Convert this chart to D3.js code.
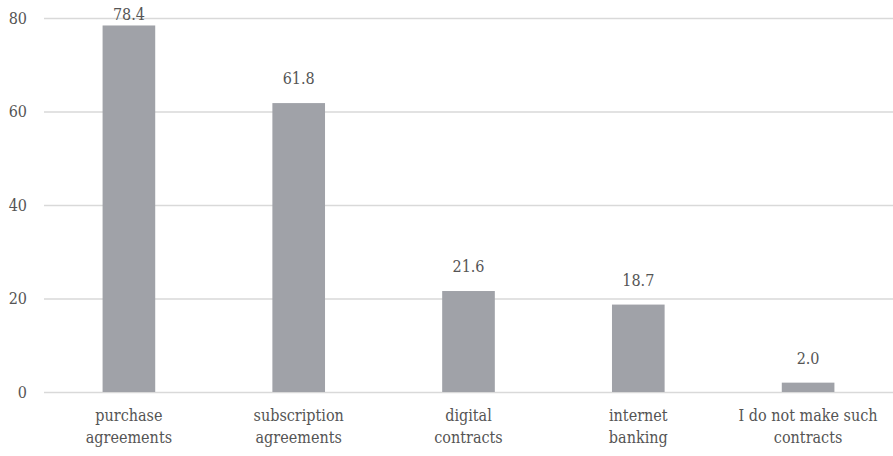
<!DOCTYPE html>
<html>
<head>
<meta charset="utf-8">
<script src="https://cdn.jsdelivr.net/npm/d3@7"></script>
<style>
  body { margin: 0; background: #fff; }
  text { font-family: "DejaVu Serif Condensed", "DejaVu Serif", serif; font-stretch: condensed; fill: #555555; }
</style>
</head>
<body>
<div id="chart"></div>
<script>
var categories = [
    ["purchase", "agreements"],
    ["subscription", "agreements"],
    ["digital", "contracts"],
    ["internet", "banking"],
    ["I do not make such", "contracts"]
];
var values = [78.4, 61.8, 21.6, 18.7, 2.0];
var yTicks = [0, 20, 40, 60, 80];

var width = 893, height = 456,
    margin = {top: 18, right: 0, bottom: 64, left: 44};

var svg = d3.select("#chart").append("svg")
    .attr("width", width)
    .attr("height", height);

var x = d3.scaleBand()
    .domain(d3.range(values.length))
    .range([margin.left, width - margin.right])
    .paddingInner(0.69)
    .paddingOuter(0.345);

var y = d3.scaleLinear()
    .domain([0, 80])
    .range([height - margin.bottom, margin.top]);

// gridlines
svg.append("g")
    .selectAll("line")
    .data(yTicks)
    .enter().append("line")
    .attr("x1", margin.left)
    .attr("x2", width - margin.right)
    .attr("y1", function(d) { return y(d) + 0.5; })
    .attr("y2", function(d) { return y(d) + 0.5; })
    .attr("stroke", "#d9d9d9")
    .attr("stroke-width", 1.5);

// y labels
svg.append("g")
    .selectAll("text")
    .data(yTicks)
    .enter().append("text")
    .attr("x", 27)
    .attr("y", function(d) { return y(d); })
    .attr("dy", "0.35em")
    .attr("text-anchor", "end")
    .style("font-size", "16px")
    .text(function(d) { return d; });

// bars
svg.append("g")
    .selectAll("rect")
    .data(values)
    .enter().append("rect")
    .attr("x", function(d, i) { return x(i); })
    .attr("y", function(d) { return y(d); })
    .attr("width", x.bandwidth())
    .attr("height", function(d) { return y(0) - y(d); })
    .attr("fill", "#a0a2a8");

// value labels
svg.append("g")
    .selectAll("text")
    .data(values)
    .enter().append("text")
    .attr("x", function(d, i) { return x(i) + x.bandwidth() / 2; })
    .attr("y", function(d) { return Math.max(y(d) - 19, 20); })
    .attr("text-anchor", "middle")
    .style("font-size", "16px")
    .text(function(d) { return d.toFixed(1); });

// category labels
var cat = svg.append("g")
    .selectAll("text")
    .data(categories)
    .enter().append("text")
    .attr("text-anchor", "middle")
    .style("font-size", "16px");

cat.selectAll("tspan")
    .data(function(d, i) { return d.map(function(t) { return {t: t, i: i}; }); })
    .enter().append("tspan")
    .attr("x", function(d) { return x(d.i) + x.bandwidth() / 2; })
    .attr("y", function(d, j) { return 421 + j * 22; })
    .text(function(d) { return d.t; });
</script>
</body>
</html>
